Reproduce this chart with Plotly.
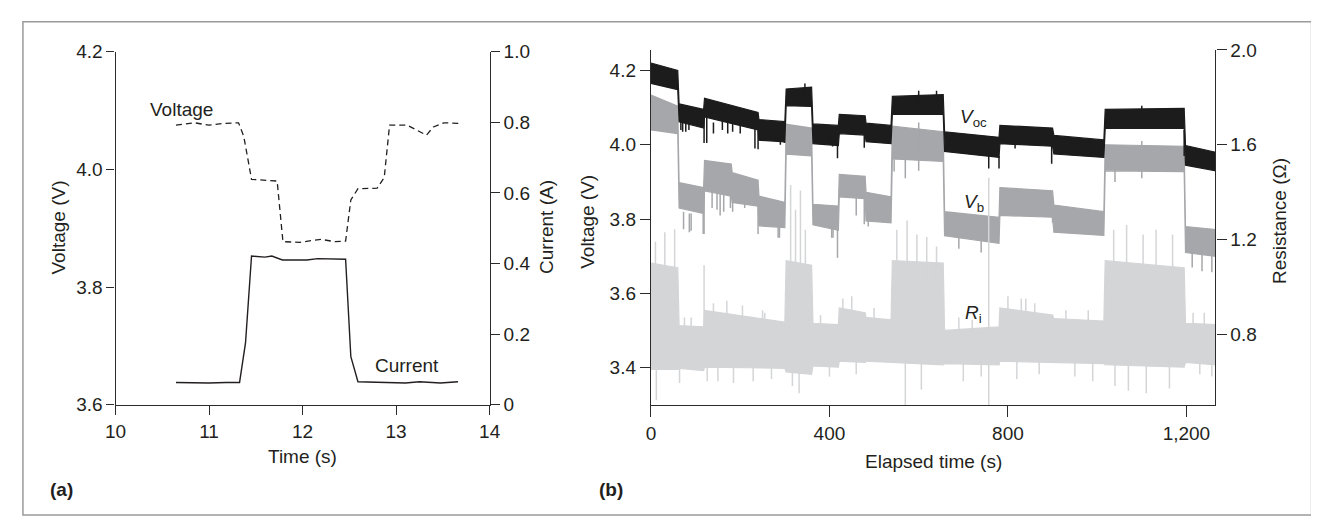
import plotly.graph_objects as go

# ---------------- Panel (a) data ----------------
a_time_v = [10.646, 10.845, 10.995, 11.146, 11.315, 11.371, 11.454, 11.728, 11.79, 11.97,
            12.197, 12.347, 12.46, 12.516, 12.592, 12.798, 12.873, 12.93, 13.117, 13.324,
            13.399, 13.512, 13.681]
a_voltage = [4.075, 4.079, 4.075, 4.078, 4.079, 4.056, 3.983, 3.980, 3.877, 3.876,
             3.881, 3.877, 3.878, 3.948, 3.967, 3.968, 3.986, 4.075, 4.075, 4.058,
             4.072, 4.079, 4.078]
a_time_i = [10.646, 10.995, 11.183, 11.326, 11.39, 11.454, 11.596, 11.671, 11.784, 11.934,
            12.047, 12.16, 12.31, 12.46, 12.516, 12.592, 13.099, 13.25, 13.474, 13.662]
a_current = [0.063, 0.0615, 0.063, 0.063, 0.176, 0.421, 0.418, 0.421, 0.410, 0.409,
             0.410, 0.4136, 0.412, 0.412, 0.136, 0.065, 0.0615, 0.065, 0.0615, 0.065]

# ---------------- Panel (b) data (band envelopes) ----------------
voc_t = [0, 60, 63, 118, 120, 240, 242, 300, 303, 360, 363, 420, 422, 480, 482, 538,
         541, 655, 658, 780, 782, 900, 903, 1015, 1018, 1195, 1198, 1265]
voc_top = [4.22, 4.20, 4.11, 4.095, 4.125, 4.087, 4.068, 4.062, 4.15, 4.155, 4.056, 4.052,
           4.082, 4.078, 4.058, 4.052, 4.13, 4.135, 4.035, 4.02, 4.052, 4.045, 4.025, 4.013,
           4.095, 4.098, 3.998, 3.98]
voc_bot = [4.165, 4.148, 4.062, 4.045, 4.075, 4.04, 4.012, 4.008, 4.105, 4.103, 4.003, 3.998,
           4.03, 4.026, 4.008, 4.003, 4.082, 4.082, 3.982, 3.966, 4.003, 3.996, 3.975, 3.966,
           4.044, 4.044, 3.945, 3.93]

vb_t = [0, 60, 63, 118, 120, 180, 182, 240, 242, 300, 303, 360, 363, 420, 422, 480, 482, 538,
        541, 655, 658, 780, 782, 900, 903, 1015, 1018, 1195, 1198, 1265]
vb_top = [4.134, 4.104, 3.898, 3.885, 3.958, 3.948, 3.925, 3.905, 3.862, 3.845, 4.055, 4.045,
          3.84, 3.835, 3.92, 3.915, 3.872, 3.86, 4.05, 4.035, 3.82, 3.805, 3.885, 3.876,
          3.838, 3.82, 4.0, 3.996, 3.78, 3.772]
vb_bot = [4.04, 4.03, 3.83, 3.815, 3.876, 3.862, 3.845, 3.835, 3.782, 3.777, 3.975, 3.97,
          3.785, 3.77, 3.86, 3.855, 3.795, 3.79, 3.962, 3.955, 3.755, 3.735, 3.81, 3.805,
          3.765, 3.756, 3.93, 3.928, 3.71, 3.70]

ri_t = [0, 60, 63, 118, 120, 300, 303, 360, 363, 420, 422, 480, 482, 538, 541, 655,
        658, 780, 782, 900, 903, 1015, 1018, 1195, 1198, 1265]
ri_top = [1.10, 1.08, 0.835, 0.83, 0.90, 0.85, 1.11, 1.09, 0.845, 0.84, 0.91, 0.89,
          0.87, 0.86, 1.11, 1.10, 0.815, 0.83, 0.91, 0.88, 0.865, 0.855, 1.11, 1.08,
          0.845, 0.84]
ri_bot = [0.65, 0.65, 0.655, 0.645, 0.66, 0.655, 0.64, 0.63, 0.665, 0.66, 0.685, 0.68,
          0.685, 0.68, 0.68, 0.67, 0.675, 0.67, 0.685, 0.68, 0.68, 0.675, 0.67, 0.66,
          0.68, 0.67]

# spikes (time, low, high)
voc_spk_t = [67, 71, 78, 85, 119, 125, 140, 160, 172, 183, 200, 233, 240, 290, 299, 345,
             400, 407, 418, 478, 600, 640, 757, 780, 816, 898, 1100, 1195]
voc_spk_lo = [4.04, 4.035, 4.035, 4.04, 4.005, 4.005, 4.03, 4.04, 4.03, 4.035, 4.03, 3.99,
              3.988, 4.0, 4.005, 4.12, 4.0, 3.995, 3.964, 3.992, 4.10, 4.11, 3.936, 3.936,
              3.99, 3.949, 4.06, 3.97]
voc_spk_hi = [4.07, 4.06, 4.06, 4.06, 4.07, 4.08, 4.06, 4.07, 4.06, 4.06, 4.06, 4.05,
              4.04, 4.03, 4.03, 4.165, 4.02, 4.02, 4.0, 4.03, 4.145, 4.145, 3.97, 3.97,
              4.01, 4.0, 4.105, 4.04]

vb_spk_t = [73, 86, 90, 117, 119, 137, 148, 155, 163, 178, 183, 210, 240, 285, 288, 405, 408,
            418, 460, 478, 487, 545, 570, 600, 690, 740, 900, 1040, 1100, 1213, 1235, 1257]
vb_spk_lo = [3.773, 3.765, 3.769, 3.76, 3.76, 3.83, 3.825, 3.81, 3.82, 3.83, 3.82, 3.83,
             3.76, 3.75, 3.75, 3.75, 3.75, 3.696, 3.81, 3.786, 3.78, 3.928, 3.91, 3.93,
             3.72, 3.71, 3.79, 3.90, 3.91, 3.67, 3.66, 3.657]
vb_spk_hi = [3.82, 3.815, 3.815, 3.82, 3.87, 3.87, 3.87, 3.87, 3.87, 3.87, 3.85, 3.84,
             3.84, 3.78, 3.78, 3.78, 3.78, 3.78, 3.86, 3.855, 3.80, 3.96, 3.96, 4.06,
             3.76, 3.75, 3.81, 3.94, 4.01, 3.72, 3.72, 3.72]

ri_spk_t = [10, 31, 53, 119, 313, 324, 335, 346, 551, 574, 596, 618, 640, 757,
            1037, 1066, 1103, 1132, 1169,
            75, 90, 140, 170, 205, 250, 255, 380, 430, 450, 500, 690, 720, 800, 830, 840,
            860, 930, 980, 1215, 1240,
            12, 64, 126, 150, 185, 229, 270, 317, 332, 400, 460, 570, 606, 700, 740, 820,
            870, 950, 990, 1040, 1070, 1110, 1162, 1230, 1257]
ri_spk_lo = [0.9, 0.9, 0.9, 0.8, 1.0, 1.0, 1.0, 1.0, 1.0, 1.0, 1.0, 1.0, 1.0, 0.5,
             1.0, 1.0, 1.0, 1.0, 1.0,
             0.80, 0.80, 0.85, 0.85, 0.85, 0.83, 0.82, 0.82, 0.88, 0.88, 0.84, 0.80, 0.80,
             0.88, 0.88, 0.88, 0.86, 0.84, 0.83, 0.82, 0.82,
             0.52, 0.593, 0.60, 0.60, 0.593, 0.60, 0.61, 0.58, 0.55, 0.62, 0.63, 0.50, 0.565,
             0.60, 0.62, 0.61, 0.63, 0.62, 0.60, 0.58, 0.56, 0.55, 0.57, 0.63, 0.62]
ri_spk_hi = [1.19, 1.23, 1.243, 1.09, 1.43, 1.325, 1.406, 1.24, 1.24, 1.28, 1.22, 1.21, 1.17, 1.46,
             1.24, 1.26, 1.22, 1.24, 1.22,
             0.87, 0.87, 0.93, 0.94, 0.92, 0.90, 0.89, 0.88, 0.95, 0.96, 0.91, 0.87, 0.86,
             0.96, 0.95, 0.95, 0.93, 0.90, 0.90, 0.89, 0.89,
             0.70, 0.70, 0.70, 0.70, 0.70, 0.70, 0.70, 0.70, 0.70, 0.70, 0.70, 0.70, 0.70,
             0.70, 0.70, 0.70, 0.70, 0.70, 0.70, 0.70, 0.70, 0.70, 0.70, 0.70, 0.70]

# ---------------- styling ----------------
W, H = 1319, 520
FONT = "Liberation Sans, Arial, Helvetica, sans-serif"
TXT = "#231f20"
AX = "#2b2b2b"
C_VOC, C_VB, C_RI = "#1c1c1c", "#a6a7aa", "#d4d5d7"


def px(x):
    return x / W


def py(y):
    return 1 - y / H


def band(t, top, bot):
    return list(t) + list(t)[::-1], list(top) + list(bot)[::-1]


def spikes(t, lo, hi):
    xs, ys = [], []
    for a, b, c in zip(t, lo, hi):
        xs += [a, a, None]
        ys += [b, c, None]
    return xs, ys


fig = go.Figure()

# Panel (a)
fig.add_trace(go.Scatter(x=a_time_v, y=a_voltage, mode="lines", xaxis="x", yaxis="y",
                         line=dict(color=TXT, width=1.3, dash="6px,4px"), hoverinfo="skip"))
fig.add_trace(go.Scatter(x=a_time_i, y=a_current, mode="lines", xaxis="x", yaxis="y2",
                         line=dict(color=TXT, width=1.4), hoverinfo="skip"))

# Panel (b)
for (t, top, bot, st, slo, shi, col, ya) in [
    (vb_t, vb_top, vb_bot, vb_spk_t, vb_spk_lo, vb_spk_hi, C_VB, "y3"),
    (voc_t, voc_top, voc_bot, voc_spk_t, voc_spk_lo, voc_spk_hi, C_VOC, "y3"),
    (ri_t, ri_top, ri_bot, ri_spk_t, ri_spk_lo, ri_spk_hi, C_RI, "y4"),
]:
    bx, by = band(t, top, bot)
    fig.add_trace(go.Scatter(x=bx, y=by, mode="lines", fill="toself", fillcolor=col,
                             line=dict(color=col, width=1.2), xaxis="x2", yaxis=ya,
                             hoverinfo="skip"))
    sx, sy = spikes(st, slo, shi)
    fig.add_trace(go.Scatter(x=sx, y=sy, mode="lines", line=dict(color=col, width=1.5),
                             xaxis="x2", yaxis=ya, hoverinfo="skip", connectgaps=False))

axis_common = dict(showline=True, linecolor=AX, linewidth=1.3, ticks="outside",
                   tickcolor=AX, tickwidth=1.3, showgrid=False, zeroline=False,
                   tickfont=dict(family=FONT, size=19, color=TXT), fixedrange=True)

fig.update_layout(
    width=W, height=H, margin=dict(l=0, r=0, t=0, b=0),
    paper_bgcolor="white", plot_bgcolor="rgba(0,0,0,0)", showlegend=False,
    xaxis=dict(domain=[px(98.2), px(478.6)], range=[10, 14], tickvals=[10, 11, 12, 13, 14],
               ticklen=9, anchor="y", **axis_common),
    yaxis=dict(domain=[py(403), py(35)], range=[3.6, 4.2], tickvals=[3.6, 3.8, 4.0, 4.2],
               ticktext=["3.6", "3.8", "4.0", "4.2"], ticklen=8, anchor="x", **axis_common),
    yaxis2=dict(overlaying="y", side="right", range=[0, 1.0],
                tickvals=[0, 0.2, 0.4, 0.6, 0.8, 1.0],
                ticktext=["0", "0.2", "0.4", "0.6", "0.8", "1.0"], ticklen=9, anchor="x",
                **axis_common),
    xaxis2=dict(domain=[px(642.7), px(1216.7)], range=[0, 1265], tickvals=[0, 400, 800, 1200],
                ticktext=["0", "400", "800", "1,200"], ticklen=11, anchor="y3", **axis_common),
    yaxis3=dict(domain=[py(403.3), py(33.3)], range=[3.30, 4.255],
                tickvals=[3.4, 3.6, 3.8, 4.0, 4.2],
                ticktext=["3.4", "3.6", "3.8", "4.0", "4.2"], ticklen=10, anchor="x2",
                **axis_common),
    yaxis4=dict(overlaying="y3", side="right", range=[0.5, 2.0], tickvals=[0.8, 1.2, 1.6, 2.0],
                ticktext=["0.8", "1.2", "1.6", "2.0"], ticklen=10, anchor="x2", **axis_common),
)


def ann(text, x, y, size=19, angle=0, xanchor="center", yanchor="middle"):
    fig.add_annotation(text=text, x=px(x), y=py(y), xref="paper", yref="paper",
                       showarrow=False, textangle=angle, xanchor=xanchor, yanchor=yanchor,
                       font=dict(family=FONT, size=size, color=TXT))


ann("Voltage", 165, 95)
ann("Current", 394.6, 362)
ann("Voltage (V)", 40, 218, angle=-90)
ann("Current (A)", 535.7, 218, angle=-90)
ann("Time (s)", 288, 457)
ann("<b>(a)</b>", 30, 491, xanchor="left")

ann("Voltage (V)", 578, 212, angle=-90)
ann("Resistance (Ω)", 1282, 212, angle=-90)
ann("Elapsed time (s)", 930, 462)
ann("<b>(b)</b>", 588, 491, xanchor="left")
ann("<i>V</i><sub>oc</sub>", 971, 104)
ann("<i>V</i><sub>b</sub>", 971, 193)
ann("<i>R</i><sub>i</sub>", 971, 308)

fig.add_shape(type="rect", xref="paper", yref="paper", x0=px(4), x1=px(1314.5),
              y0=py(518), y1=py(4), line=dict(color="#9a9a9a", width=1.5))

fig.write_html("out.html")
